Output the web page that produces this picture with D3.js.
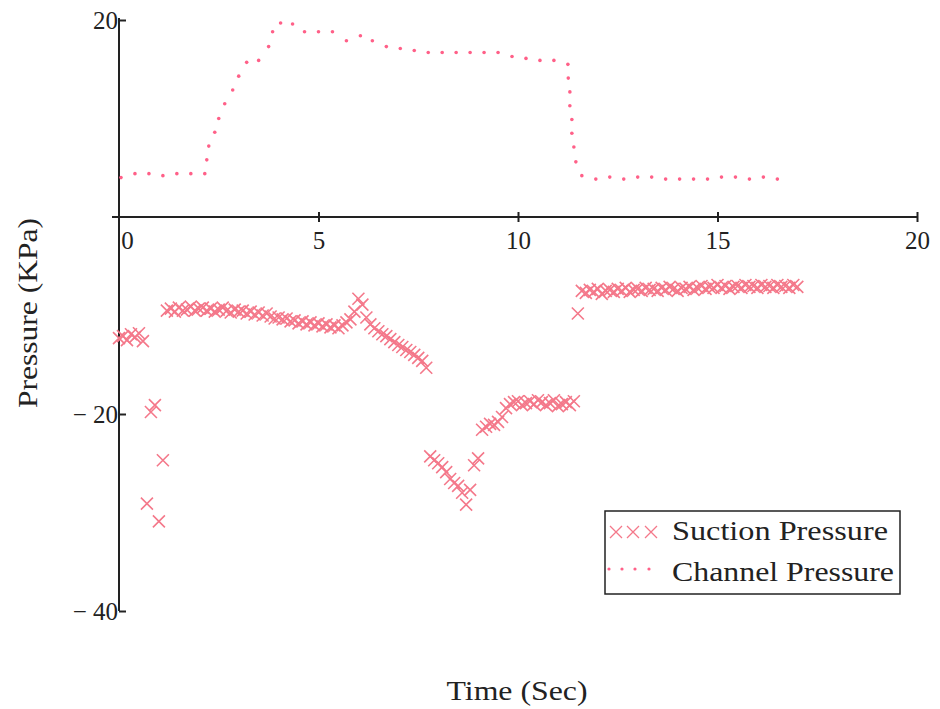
<!DOCTYPE html>
<html lang="en">
<head>
    <meta charset="UTF-8">
    <title>Suction and Channel Pressure</title>
    <script src="https://d3js.org/d3.v7.min.js"></script>
    <style>
        body { margin: 0; background: #fff; }
        text { font-family: "Liberation Serif", "Times New Roman", serif; fill: #222; }
    </style>
</head>
<body>
<script>
    // time ticks (s) and pressure ticks (KPa)
    var xTicks = [0, 5, 10, 15, 20];
    var yTicks = [20, -20, -40];

    // suction pressure, sampled every 0.1 s
    var suctionTime = [
        0, 0.1, 0.2, 0.3, 0.4, 0.5, 0.6, 0.7, 0.8, 0.9,
        1, 1.1, 1.2, 1.3, 1.4, 1.5, 1.6, 1.7, 1.8, 1.9,
        2, 2.1, 2.2, 2.3, 2.4, 2.5, 2.6, 2.7, 2.8, 2.9,
        3, 3.1, 3.2, 3.3, 3.4, 3.5, 3.6, 3.7, 3.8, 3.9,
        4, 4.1, 4.2, 4.3, 4.4, 4.5, 4.6, 4.7, 4.8, 4.9,
        5, 5.1, 5.2, 5.3, 5.4, 5.5, 5.6, 5.7, 5.8, 5.9,
        6, 6.1, 6.2, 6.3, 6.4, 6.5, 6.6, 6.7, 6.8, 6.9,
        7, 7.1, 7.2, 7.3, 7.4, 7.5, 7.6, 7.7, 7.8, 7.9,
        8, 8.1, 8.2, 8.3, 8.4, 8.5, 8.6, 8.7, 8.8, 8.9,
        9, 9.1, 9.2, 9.3, 9.4, 9.5, 9.6, 9.7, 9.8, 9.9,
        10, 10.1, 10.2, 10.3, 10.4, 10.5, 10.6, 10.7, 10.8, 10.9,
        11, 11.1, 11.2, 11.3, 11.4, 11.5, 11.6, 11.7, 11.8, 11.9,
        12, 12.1, 12.2, 12.3, 12.4, 12.5, 12.6, 12.7, 12.8, 12.9,
        13, 13.1, 13.2, 13.3, 13.4, 13.5, 13.6, 13.7, 13.8, 13.9,
        14, 14.1, 14.2, 14.3, 14.4, 14.5, 14.6, 14.7, 14.8, 14.9,
        15, 15.1, 15.2, 15.3, 15.4, 15.5, 15.6, 15.7, 15.8, 15.9,
        16, 16.1, 16.2, 16.3, 16.4, 16.5, 16.6, 16.7, 16.8, 16.9,
        17
    ];
    var suctionKPa = [
        -12.3, -12.1, -12.5, -11.9, -12.2, -11.8, -12.6, -29.1, -19.8, -19.1,
        -30.9, -24.7, -9.5, -9.3, -9.6, -9.2, -9.5, -9.4, -9.1, -9.5,
        -9.3, -9.2, -9.5, -9.3, -9.6, -9.4, -9.2, -9.5, -9.7, -9.4,
        -9.6, -9.5, -9.8, -9.6, -9.9, -9.7, -10.0, -9.8, -10.1, -10.3,
        -10.2, -10.4, -10.3, -10.6, -10.5, -10.8, -10.6, -10.9, -10.7, -11.0,
        -10.8, -11.1, -10.9, -11.2, -11.0, -11.3, -11.0, -10.7, -10.4, -9.6,
        -8.3, -8.9, -10.2, -10.9, -11.3, -11.6, -11.9, -12.1, -12.4, -12.7,
        -13.0, -13.2, -13.5, -13.7, -14.0, -14.3, -14.6, -15.3, -24.3, -24.7,
        -25.0, -25.4, -25.9, -26.6, -27.0, -27.3, -28.0, -29.2, -27.7, -25.2,
        -24.5, -21.6, -21.3, -21.0, -21.1, -20.8, -20.3, -19.4, -19.0, -18.8,
        -18.7, -19.1, -18.9, -18.7, -19.0, -18.6, -18.8, -19.1, -18.9, -18.6,
        -19.2, -19.0, -18.8, -19.1, -18.7, -9.8, -7.5, -7.7, -7.4, -7.6,
        -7.3, -7.8, -7.5, -7.4, -7.6, -7.3, -7.5, -7.2, -7.6, -7.4,
        -7.3, -7.5, -7.2, -7.4, -7.3, -7.5, -7.2, -7.4, -7.1, -7.3,
        -7.5, -7.2, -7.3, -7.1, -7.4, -7.2, -7.0, -7.3, -7.1, -7.2,
        -6.9, -7.2, -7.0, -7.3, -7.1, -7.0, -7.2, -6.9, -7.1, -7.0,
        -7.2, -6.9, -7.1, -7.0, -7.2, -6.9, -7.1, -7.0, -7.2, -6.9,
        -7.1
    ];

    // channel pressure
    var channelTime = [
        0.05, 0.4, 0.75, 1.1, 1.45, 1.8, 2.15, 2.2, 2.25, 2.4,
        2.5, 2.65, 2.85, 3.0, 3.2, 3.5, 3.75, 3.85, 4.05, 4.35,
        4.65, 5.0, 5.35, 5.7, 6.05, 6.35, 6.7, 7.05, 7.4, 7.75,
        8.1, 8.45, 8.8, 9.15, 9.5, 9.85, 10.2, 10.55, 10.9, 11.25,
        11.26, 11.3, 11.3, 11.35, 11.35, 11.4, 11.45, 11.6, 11.95, 12.3,
        12.65, 13.0, 13.35, 13.7, 14.05, 14.4, 14.75, 15.1, 15.45, 15.8,
        16.15, 16.5
    ];
    var channelKPa = [
        4.0, 4.4, 4.4, 4.2, 4.4, 4.4, 4.4, 5.8, 7.2, 8.6,
        10.0, 11.5, 12.9, 14.3, 15.7, 15.9, 17.3, 18.8, 19.7, 19.6,
        18.8, 18.8, 18.8, 17.9, 18.4, 17.9, 17.3, 17.1, 16.9, 16.7,
        16.7, 16.7, 16.7, 16.7, 16.7, 16.3, 16.1, 15.9, 15.9, 15.5,
        14.1, 12.7, 11.3, 9.9, 8.5, 7.1, 5.6, 4.2, 3.85, 4.05,
        3.85, 4.05, 4.05, 3.85, 3.85, 3.85, 3.85, 4.05, 4.05, 3.85,
        4.05, 3.85
    ];

    var seriesNames = ["Suction Pressure", "Channel Pressure"];

    var w = 940, h = 709;
    var markColor = "#f4788a";
    var dotColor = "#ff6088";

    var x = d3.scaleLinear().domain([0, 20]).range([119, 917]);
    var y = d3.scaleLinear().domain([-40, 20]).range([611, 20]);

    var svg = d3.select("body")
                .append("svg")
                .attr("width", w)
                .attr("height", h);

    // x axis, crossing at 0 KPa
    var xAxis = svg.append("g")
        .attr("transform", "translate(0," + y(0) + ")")
        .call(d3.axisBottom(x).tickValues(xTicks).tickSize(5).tickPadding(9));
    xAxis.select(".domain").remove();
    xAxis.append("line")
        .attr("x1", x(0) - 7).attr("x2", x(20))
        .attr("stroke", "#222").attr("stroke-width", 2);
    xAxis.selectAll(".tick line")
        .attr("y1", -5).attr("stroke", "#222").attr("stroke-width", 2)
        .attr("display", d => d === 0 ? "none" : null);
    xAxis.selectAll(".tick text")
        .attr("font-size", 25).attr("fill", "#222")
        .attr("dx", d => d === 0 ? 8 : 0);

    // y axis
    var yAxis = svg.append("g")
        .attr("transform", "translate(" + x(0) + ",0)")
        .call(d3.axisLeft(y).tickValues(yTicks).tickSizeInner(-7).tickSizeOuter(0).tickPadding(1)
              .tickFormat(d => d < 0 ? "\u2212 " + Math.abs(d) : d));
    yAxis.select(".domain").remove();
    yAxis.append("line")
        .attr("y1", y(20) - 2).attr("y2", y(-40))
        .attr("stroke", "#222").attr("stroke-width", 2);
    yAxis.selectAll(".tick line").attr("stroke", "#222").attr("stroke-width", 2);
    yAxis.selectAll(".tick text").attr("font-size", 25).attr("fill", "#222");

    // axis titles
    svg.append("text")
        .attr("x", 517).attr("y", 700)
        .attr("text-anchor", "middle")
        .attr("font-size", 27)
        .attr("textLength", 141)
        .attr("lengthAdjust", "spacingAndGlyphs")
        .text("Time (Sec)");
    svg.append("text")
        .attr("transform", "translate(37,313) rotate(-90)")
        .attr("text-anchor", "middle")
        .attr("font-size", 27)
        .attr("textLength", 190)
        .attr("lengthAdjust", "spacingAndGlyphs")
        .text("Pressure (KPa)");

    var cross = "M-6,-6L6,6M-6,6L6,-6";

    // suction crosses
    svg.append("g").selectAll("path")
        .data(suctionTime)
        .join("path")
        .attr("transform", (d, i) => "translate(" + x(d) + "," + y(suctionKPa[i]) + ")")
        .attr("d", cross)
        .attr("fill", "none")
        .attr("stroke", markColor)
        .attr("stroke-width", 1.6);

    // channel dots
    svg.append("g").selectAll("circle")
        .data(channelTime)
        .join("circle")
        .attr("cx", d => x(d))
        .attr("cy", (d, i) => y(channelKPa[i]))
        .attr("r", 1.8)
        .attr("fill", dotColor);

    // legend
    var legend = svg.append("g");
    legend.append("rect")
        .attr("x", 605).attr("y", 511).attr("width", 295).attr("height", 83)
        .attr("fill", "#fff").attr("stroke", "#222").attr("stroke-width", 1.5);
    legend.selectAll("text")
        .data(seriesNames)
        .join("text")
        .attr("x", 672)
        .attr("y", (d, i) => 540 + i * 41)
        .attr("font-size", 27)
        .attr("textLength", (d, i) => i === 0 ? 216 : 222)
        .attr("lengthAdjust", "spacingAndGlyphs")
        .text(d => d);
    legend.selectAll(".lx")
        .data([616, 633, 651])
        .join("path")
        .attr("class", "lx")
        .attr("transform", d => "translate(" + d + ",532)")
        .attr("d", "M-6,-6L6,6M-6,6L6,-6")
        .attr("fill", "none")
        .attr("stroke", markColor)
        .attr("stroke-width", 1.3);
    legend.selectAll(".ld")
        .data([609, 622, 635, 649])
        .join("circle")
        .attr("class", "ld")
        .attr("cx", d => d).attr("cy", 569)
        .attr("r", 1.6)
        .attr("fill", dotColor);
</script>
</body>
</html>
